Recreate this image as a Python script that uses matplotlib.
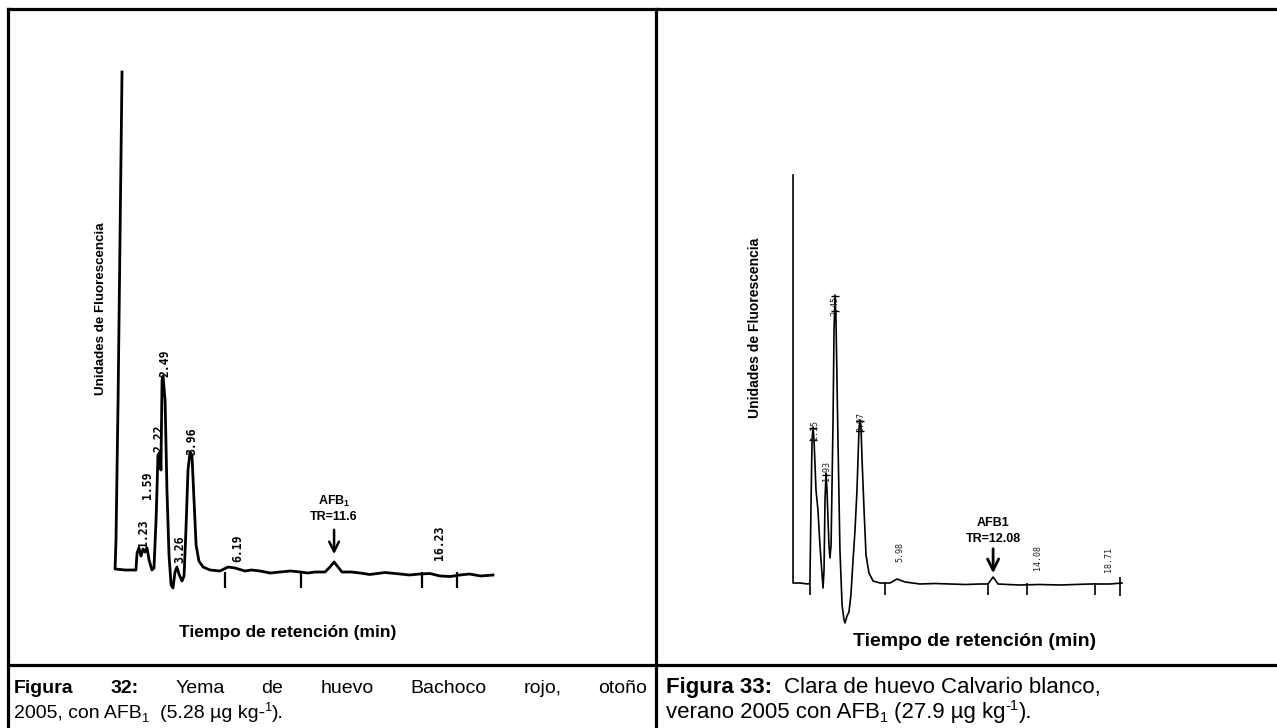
import matplotlib
matplotlib.use("Agg")
import matplotlib.pyplot as plt

W, H, DPI = 1277, 728, 100

# ---------------- Figura 32: yema Bachoco rojo (time in min, signal in a.u.) -------------
yolk_t = [0.32, 0.11, 0.00, -0.05, 0.48, 1.06, 1.12, 1.22, 1.33, 1.44, 1.54, 1.65, 1.76,
          1.91, 2.02, 2.13, 2.18, 2.23, 2.34, 2.39, 2.45, 2.50, 2.61, 2.71, 2.82, 2.93,
          3.03, 3.14, 3.24, 3.35, 3.51, 3.62, 3.72, 3.83, 3.94, 4.04, 4.15, 4.26, 4.41,
          4.63, 5.00, 5.53, 5.96, 6.33, 6.86, 7.20, 7.66, 8.20, 8.72, 9.30, 9.79, 10.20,
          10.59, 11.12, 11.38, 11.60, 11.81, 12.02, 12.50, 12.98, 13.50, 14.30, 15.11,
          15.60, 16.17, 16.70, 17.23, 17.80, 18.30, 18.80, 19.40, 20.05]
yolk_s = [99.6, 34.0, 6.0, 0.2, 0.0, 0.0, 3.4, 4.4, 2.8, 4.2, 3.6, 4.4, 2.0,
          0.0, 0.4, 10.0, 16.0, 23.0, 23.6, 20.0, 38.0, 38.8, 34.0, 16.0, 3.0, -3.0,
          -3.6, -0.4, 0.6, -0.8, -2.2, -1.2, 8.0, 20.0, 23.6, 23.0, 14.0, 5.0, 1.8,
          0.6, 0.0, -0.2, 0.6, 0.4, -0.2, 0.0, -0.2, -0.6, -0.4, -0.2, -0.4, -0.6,
          -0.4, -0.4, 0.6, 1.6, 0.6, -0.4, -0.4, -0.6, -0.9, -0.5, -0.8,
          -1.0, -0.8, -0.7, -1.2, -1.3, -1.0, -0.8, -1.2, -1.0]
yolk_events = [5.80, 9.84, 16.28, 18.14]
yolk_peak_labels = ["1.23", "1.59", "2.22", "2.49", "3.26", "3.96", "6.19", "16.23"]
yolk_label_t = [1.44, 1.70, 2.29, 2.61, 3.40, 4.04, 6.49, 17.23]
yolk_label_s = [7.4, 17.0, 26.4, 41.4, 4.2, 25.8, 4.4, 5.4]
yolk_tr = 11.6

# ---------------- Figura 33: clara Calvario blanco -------------
white_t = [-0.12, -0.12, 0.30, 0.79, 0.91, 0.98, 1.04, 1.10, 1.16, 1.28, 1.40, 1.52,
           1.71, 1.77, 1.83, 1.89, 1.95, 2.07, 2.13, 2.20, 2.32, 2.38, 2.44, 2.50,
           2.62, 2.74, 2.87, 2.99, 3.05, 3.17, 3.29, 3.41, 3.54, 3.66, 3.78, 3.90,
           3.96, 4.02, 4.09, 4.21, 4.33, 4.51, 4.76, 5.18, 5.79, 6.22, 6.71, 7.62,
           8.50, 9.45, 10.40, 11.28, 11.77, 12.08, 12.38, 13.00, 13.72, 14.90, 16.16,
           17.10, 17.99, 19.21, 19.94]
white_s = [81.6, 0.0, 0.0, -0.2, 0.0, 16.6, 28.6, 31.2, 28.6, 18.6, 14.6, 7.6,
           -1.0, 2.6, 16.6, 22.0, 18.6, 7.6, 5.0, 7.6, 32.6, 50.6, 57.6, 52.6,
           28.6, 6.6, -4.4, -7.4, -8.0, -6.6, -5.8, -2.4, 4.6, 10.6, 18.6, 30.6,
           32.6, 31.6, 24.6, 14.6, 5.6, 2.0, 0.4, 0.0, 0.0, 0.8, 0.2, -0.2,
           -0.1, -0.2, -0.3, -0.2, -0.2, 1.2, -0.2, -0.3, -0.4, -0.3, -0.4,
           -0.3, -0.2, -0.2, 0.0]
white_events = [0.91, 5.49, 11.77, 14.15, 18.29, 19.82]
white_peak_labels = ["1.15", "1.93", "2.45", "3.97", "5.98", "14.08", "18.71"]
white_label_t = [1.16, 1.95, 2.44, 4.02, 6.40, 14.76, 19.09]
white_label_s = [30.6, 22.4, 55.4, 32.2, 6.2, 5.0, 4.6]
white_mark_t = [1.10, 1.10, 1.89, 2.44, 2.44, 3.96, 3.96]
white_mark_s = [31.0, 28.6, 21.6, 57.4, 54.4, 32.4, 30.4]
white_tr = 12.08

CAP_BOLD = ["Figura 32:", "Figura 33:"]
Y_LABEL = "Unidades de Fluorescencia"
X_LABEL = "Tiempo de retención (min)"

plt.rcParams["font.family"] = ["Liberation Sans", "DejaVu Sans"]

fig = plt.figure(figsize=(W / DPI, H / DPI), dpi=DPI)
bg = fig.add_axes([0, 0, 1, 1])
bg.set_xlim(0, W)
bg.set_ylim(H, 0)
bg.axis("off")
renderer = fig.canvas.get_renderer()

# table rules
rule = dict(color="black", lw=2.3, solid_capstyle="projecting")
bg.plot([8, W], [9, 9], **rule)
bg.plot([8, 8], [9, H], **rule)
bg.plot([656, 656], [9, H], **rule)
bg.plot([8, W], [665, 665], **rule)


def chart_axes(box, x0, kx, base, ky):
    """box = (left, top, right, bottom) in pixels; x = x0 + kx*t ; y = base - ky*s"""
    l, t, r, b = box
    ax = fig.add_axes([l / W, (H - b) / H, (r - l) / W, (b - t) / H])
    ax.set_xlim((l - x0) / kx, (r - x0) / kx)
    ax.set_ylim((base - b) / ky, (base - t) / ky)
    ax.axis("off")
    return ax


# ---- left chromatogram
axL = chart_axes((100, 55, 510, 600), 116, 18.8, 570, 5.0)
axL.plot(yolk_t, yolk_s, color="black", lw=2.0, solid_joinstyle="round")
axL.vlines(yolk_events, -0.4, -3.6, color="black", lw=1.6)
for lab, t, s in zip(yolk_peak_labels, yolk_label_t, yolk_label_s):
    axL.text(t, s, lab, rotation=90, ha="center", va="center", fontsize=8.3,
             fontweight="bold", family="DejaVu Sans Mono")
axL.annotate("", xy=(yolk_tr, 2.6), xytext=(yolk_tr, 8.6),
             arrowprops=dict(arrowstyle="->,head_width=0.35,head_length=0.7",
                             color="black", lw=1.8))
axL.text(yolk_tr, 10.6, "TR=" + str(yolk_tr), ha="center", va="center",
         fontsize=9, fontweight="bold")
axL.text(yolk_tr, 13.7, r"AFB$_\mathregular{1}$", ha="center", va="center",
         fontsize=9, fontweight="bold")

# ---- right chromatogram
axR = chart_axes((780, 160, 1140, 630), 795, 16.4, 583, 5.0)
axR.plot(white_t, white_s, color="black", lw=1.2, solid_joinstyle="round")
axR.vlines(white_events[:-1], 0.0, -2.4, color="black", lw=1.2)
axR.vlines(white_events[-1:], 1.2, -2.6, color="black", lw=1.2)
axR.plot(white_mark_t, white_mark_s, ls="none", marker="_", ms=6, mew=1.0,
         color="black")
for lab, t, s in zip(white_peak_labels, white_label_t, white_label_s):
    axR.text(t, s, lab, rotation=90, ha="center", va="center", fontsize=6,
             family="DejaVu Sans Mono", color="#222222")
axR.annotate("", xy=(white_tr, 1.4), xytext=(white_tr, 7.4),
             arrowprops=dict(arrowstyle="->,head_width=0.4,head_length=0.8",
                             color="black", lw=2.0))
axR.text(white_tr, 8.8, "TR=" + str(white_tr), ha="center", va="center",
         fontsize=9, fontweight="bold")
axR.text(white_tr, 12.0, r"AFB1", ha="center", va="center",
         fontsize=9, fontweight="bold")

# axis titles
bg.text(101, 309, Y_LABEL, rotation=90, ha="center", va="center",
        fontsize=9.6, fontweight="bold")
bg.text(288, 632, X_LABEL, ha="center", va="center", fontsize=12.5,
        fontweight="bold")
bg.text(755, 328, Y_LABEL, rotation=90, ha="center", va="center",
        fontsize=10, fontweight="bold")
bg.text(975, 642, X_LABEL, ha="center", va="center", fontsize=14,
        fontweight="bold")


def width(s, **kw):
    t = bg.text(0, 0, s, **kw)
    w = t.get_window_extent(renderer).width
    t.remove()
    return w


def runs(x, y, items):
    """items: (text, props, dy) tuples, or numbers meaning a horizontal gap in px"""
    cur = x
    for it in items:
        if isinstance(it, (int, float)):
            cur += it
            continue
        s, props, dy = it
        t = bg.text(cur, y + dy, s, ha="left", va="baseline", **props)
        cur += t.get_window_extent(renderer).width
    return cur


# ---- captions
def caption_styles(fs):
    sp = width("a a", fontsize=fs) - width("aa", fontsize=fs)
    return dict(fontsize=fs), dict(fontsize=fs, fontweight="bold"), \
        dict(fontsize=fs * 0.66), sp


reg, bold, small, SP = caption_styles(14.0)

# left caption, first line justified between 14 and 647
words = [(w, bold) for w in CAP_BOLD[0].split()] + \
        [(w, reg) for w in "Yema de huevo Bachoco rojo, otoño".split()]
ws = [width(w, **p) for w, p in words]
gap = (647 - 14 - sum(ws)) / (len(words) - 1)
x = 14
for (w, p), wd in zip(words, ws):
    bg.text(x, 693, w, ha="left", va="baseline", **p)
    x += wd + gap

runs(14, 718, [("2005, con AFB", reg, 0), ("1", small, 4), 2 * SP,
               ("(5.28 µg kg-", reg, 0), ("1", small, -7), (").", reg, 0)])

reg, bold, small, SP = caption_styles(16.0)
runs(666, 693, [(CAP_BOLD[1], bold, 0), 2 * SP,
                ("Clara de huevo Calvario blanco,", reg, 0)])
runs(666, 718, [("verano 2005 con AFB", reg, 0), ("1", small, 4), SP,
                ("(27.9 µg kg", reg, 0), ("-1", small, -8), (").", reg, 0)])

fig.savefig("out.png", dpi=DPI)
